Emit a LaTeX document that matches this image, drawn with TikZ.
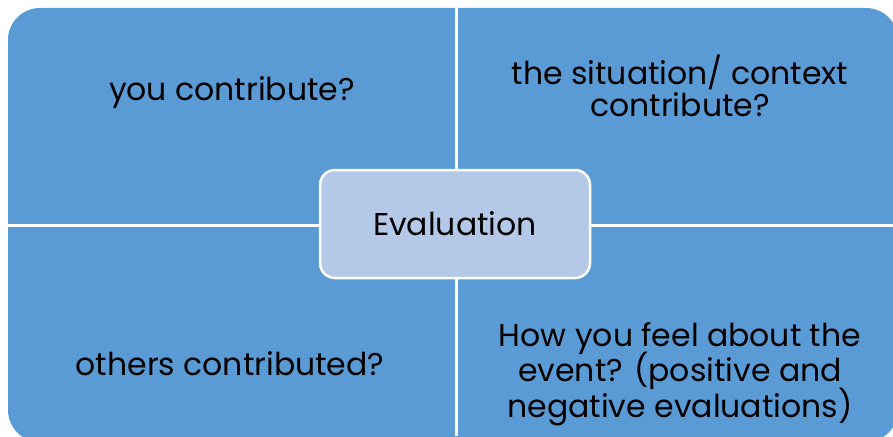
\documentclass[tikz,border=0pt]{standalone}
\usepackage{fontspec}
\setmainfont{Poppins}
\definecolor{quadblue}{HTML}{5B9BD5}
\definecolor{centreblue}{HTML}{B4C8E7}
\newcommand{\quadfont}[1]{\fontsize{31.5}{#1}\selectfont\lineskiplimit=-30pt\relax}
\begin{document}
\begin{tikzpicture}[x=1pt,y=-1pt]
    \tikzstyle{every node}=[font=\quadfont{32},align=center,text=black,inner sep=0pt];
    \useasboundingbox (0,0) rectangle (893,436);
    % matrix background
    \fill[quadblue,rounded corners=32pt] (8,8) rectangle (898,442);
    \draw[white,line width=3pt] (456.5,0) -- (456.5,436)
    (0,225.5) -- (893,225.5);
    % quadrant texts
    \node (you) at (232,93) {you contribute?};
    \node (situation) at (680,86) {the situation/ context\\contribute?};
    \node (others) at (230,364) {others contributed?};
    \node[font=\quadfont{35.5}] (feel) at (680,374) {How you feel about the\\event? (positive and\\negative evaluations)};
    % centre
    \node[draw=white,line width=2.5pt,fill=centreblue,rounded corners=15pt,
    minimum width=270pt,minimum height=108pt] (eval) at (455,224) {Evaluation};
\end{tikzpicture}
\end{document}
